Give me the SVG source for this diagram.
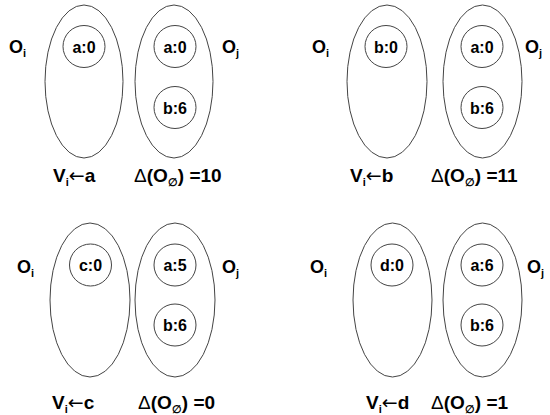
<svg xmlns="http://www.w3.org/2000/svg" width="550" height="415" viewBox="0 0 550 415">
  <style>
    .set { fill: none; stroke: #444; stroke-width: 1; }
    .item { fill: none; stroke: #444; stroke-width: 1; }
    text { font-family: "Liberation Sans", Arial, sans-serif; font-weight: bold; fill: #000; }
    .val { font-size: 16px; text-anchor: middle; }
    .obj { font-size: 18px; }
    .cap { font-size: 19px; }
    .sub { font-size: 11px; }
    .thin { font-weight: normal; }
    .arr { font-family: "DejaVu Sans", sans-serif; font-weight: normal; }
  </style>
  <rect width="550" height="415" fill="#fff"/>

  <!-- panel 1: V_i <- a -->
  <g id="p1">
    <g id="p1-oi"><ellipse class="set" cx="84" cy="81.5" rx="39" ry="76.5"/>
      <circle class="item" cx="84" cy="46.5" r="21"/><text class="val" x="84" y="52.5">a:0</text></g>
    <g id="p1-oj"><ellipse class="set" cx="174" cy="81.5" rx="39" ry="76.5"/>
      <circle class="item" cx="175" cy="46.5" r="21"/><text class="val" x="175" y="52.5">a:0</text>
      <circle class="item" cx="175" cy="107.5" r="21"/><text class="val" x="175" y="113.5">b:6</text></g>
    <text class="obj" x="9" y="53">O<tspan class="sub" dy="4">i</tspan></text>
    <text class="obj" x="222" y="53">O<tspan class="sub" dy="4">j</tspan></text>
    <text class="cap" x="53" y="182">V<tspan class="sub" dy="4">i</tspan><tspan class="arr" dy="-4">←</tspan>a</text>
    <text class="cap" x="134" y="182"><tspan class="thin">Δ</tspan>(O<tspan class="sub" dy="4">∅</tspan><tspan dy="-4">) =10</tspan></text>
  </g>

  <!-- panel 2: V_i <- b -->
  <g id="p2">
    <g id="p2-oi"><ellipse class="set" cx="387" cy="81.5" rx="40" ry="76.5"/>
      <circle class="item" cx="386" cy="46.5" r="21"/><text class="val" x="386" y="52.5">b:0</text></g>
    <g id="p2-oj"><ellipse class="set" cx="482.5" cy="81.5" rx="39.5" ry="76.5"/>
      <circle class="item" cx="482" cy="46.5" r="21"/><text class="val" x="482" y="52.5">a:0</text>
      <circle class="item" cx="482" cy="107.5" r="21"/><text class="val" x="482" y="113.5">b:6</text></g>
    <text class="obj" x="312" y="53">O<tspan class="sub" dy="4">i</tspan></text>
    <text class="obj" x="525" y="53">O<tspan class="sub" dy="4">j</tspan></text>
    <text class="cap" x="350" y="182">V<tspan class="sub" dy="4">i</tspan><tspan class="arr" dy="-4">←</tspan>b</text>
    <text class="cap" x="431" y="182"><tspan class="thin">Δ</tspan>(O<tspan class="sub" dy="4">∅</tspan><tspan dy="-4">) =11</tspan></text>
  </g>

  <!-- panel 3: V_i <- c -->
  <g id="p3">
    <g id="p3-oi"><ellipse class="set" cx="90" cy="300" rx="40" ry="77"/>
      <circle class="item" cx="90.5" cy="265" r="21"/><text class="val" x="90.5" y="271">c:0</text></g>
    <g id="p3-oj"><ellipse class="set" cx="175" cy="300" rx="40" ry="77"/>
      <circle class="item" cx="175" cy="265" r="21"/><text class="val" x="175" y="271">a:5</text>
      <circle class="item" cx="175" cy="325" r="21"/><text class="val" x="175" y="331">b:6</text></g>
    <text class="obj" x="17" y="273">O<tspan class="sub" dy="4">i</tspan></text>
    <text class="obj" x="222" y="273">O<tspan class="sub" dy="4">j</tspan></text>
    <text class="cap" x="52" y="409">V<tspan class="sub" dy="4">i</tspan><tspan class="arr" dy="-4">←</tspan>c</text>
    <text class="cap" x="138" y="409"><tspan class="thin">Δ</tspan>(O<tspan class="sub" dy="4">∅</tspan><tspan dy="-4">) =0</tspan></text>
  </g>

  <!-- panel 4: V_i <- d -->
  <g id="p4">
    <g id="p4-oi"><ellipse class="set" cx="392.5" cy="300" rx="39.5" ry="77"/>
      <circle class="item" cx="392" cy="265" r="21"/><text class="val" x="392" y="271">d:0</text></g>
    <g id="p4-oj"><ellipse class="set" cx="482.5" cy="300" rx="39.5" ry="77"/>
      <circle class="item" cx="482" cy="265" r="21"/><text class="val" x="482" y="271">a:6</text>
      <circle class="item" cx="482" cy="325" r="21"/><text class="val" x="482" y="331">b:6</text></g>
    <text class="obj" x="310" y="273">O<tspan class="sub" dy="4">i</tspan></text>
    <text class="obj" x="527" y="273">O<tspan class="sub" dy="4">j</tspan></text>
    <text class="cap" x="366" y="409">V<tspan class="sub" dy="4">i</tspan><tspan class="arr" dy="-4">←</tspan>d</text>
    <text class="cap" x="431" y="409"><tspan class="thin">Δ</tspan>(O<tspan class="sub" dy="4">∅</tspan><tspan dy="-4">) =1</tspan></text>
  </g>

  <g id="connectors"/>
</svg>
